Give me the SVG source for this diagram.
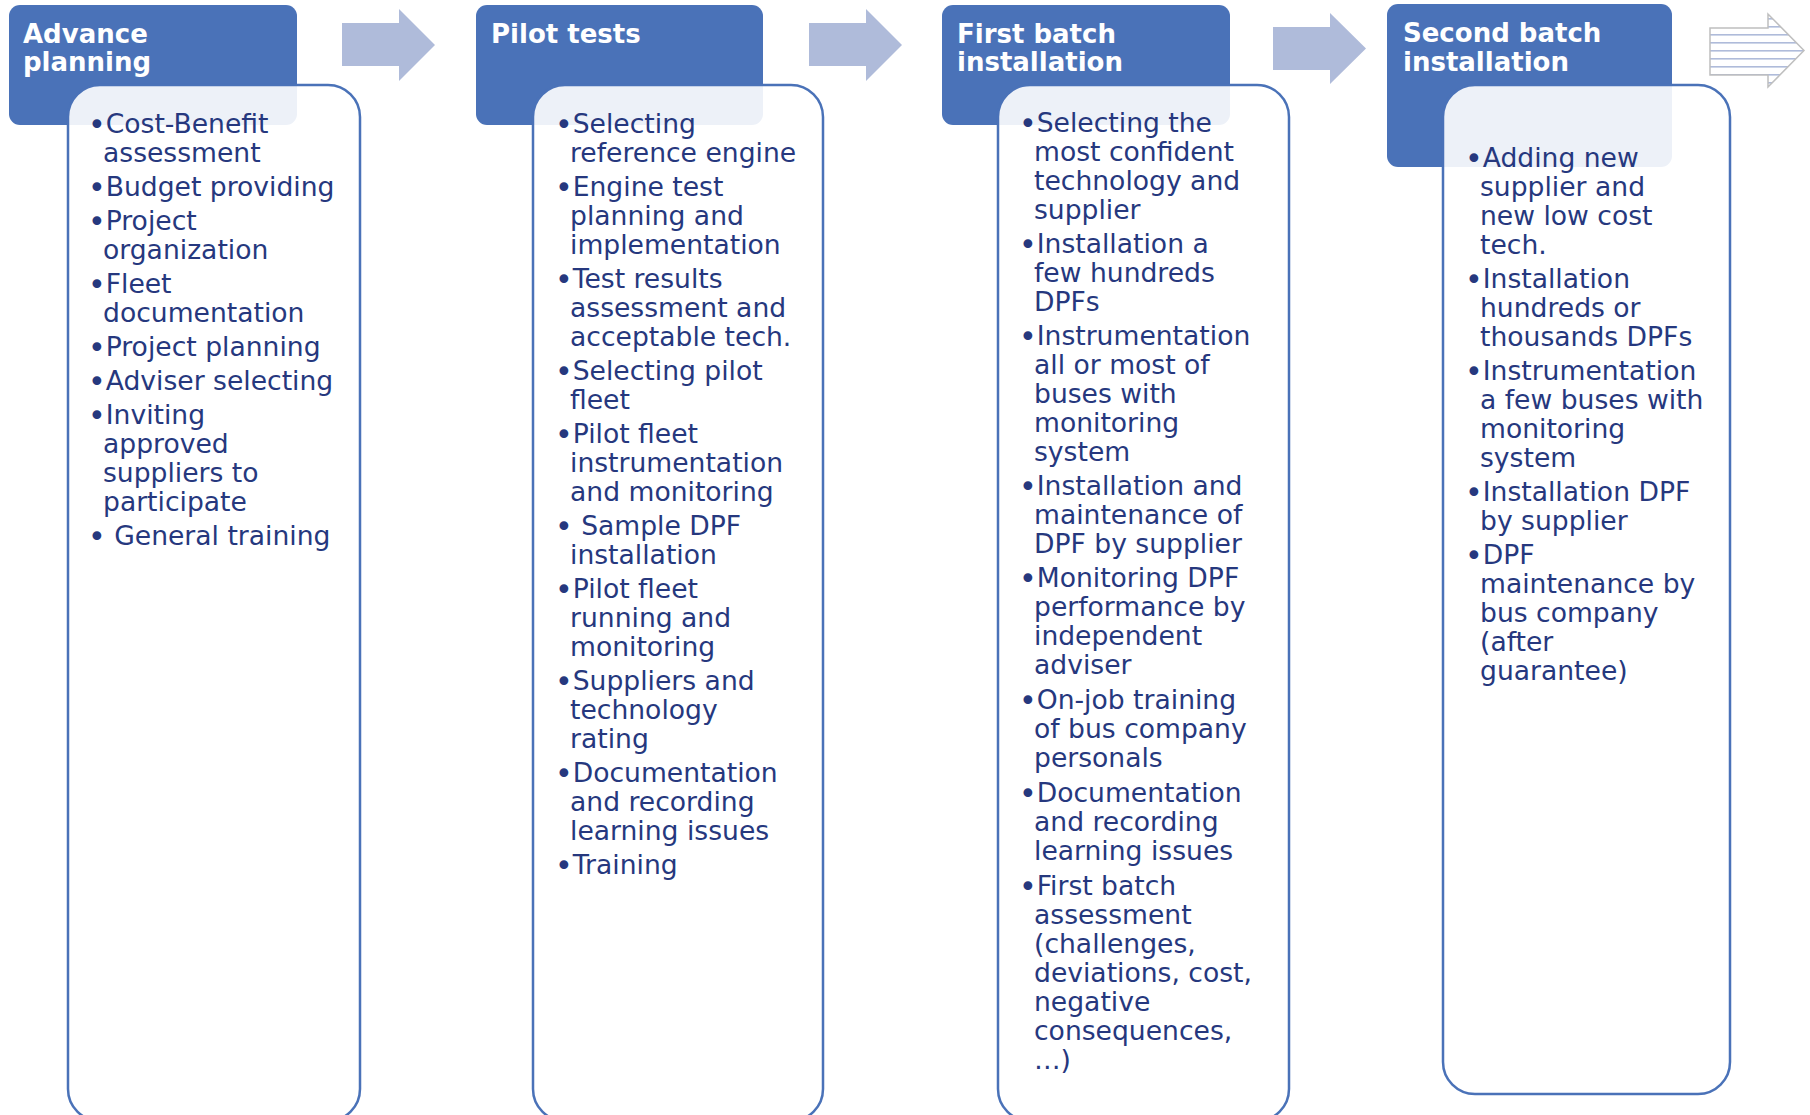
<svg xmlns="http://www.w3.org/2000/svg" width="1810" height="1115" viewBox="0 0 1810 1115">
<defs>
<style>
.hdr{fill:#4A72B8}
.box{fill:#FFFFFF;fill-opacity:0.9;stroke:#4A72B8;stroke-width:2.5}
.ht{font-family:"DejaVu Sans","Liberation Sans",sans-serif;font-weight:bold;font-size:26px;fill:#FFFFFF}
.bt{font-family:"DejaVu Sans","Liberation Sans",sans-serif;font-size:26.6px;fill:#26387E}
.b{font-size:30px;baseline-shift:-2px}
.arr{fill:#AFBBDA}
</style>
<pattern id="stripes" patternUnits="userSpaceOnUse" x="0" y="2" width="8" height="8">
<rect x="0" y="0" width="8" height="8" fill="#FFFFFF"/>
<rect x="0" y="0" width="8" height="1.6" fill="#AFBBDA"/>
</pattern>
</defs>
<rect width="1810" height="1115" fill="#FFFFFF"/>
<g id="connectors">
<polygon class="arr" points="342,23 399,23 399,9 435,45 399,81 399,66 342,66"/>
<polygon class="arr" points="809,23 866,23 866,9 902,45 866,81 866,66 809,66"/>
<polygon class="arr" points="1273,27 1330,27 1330,13 1366,48.5 1330,84 1330,70 1273,70"/>
<polygon points="1710,28 1768,28 1768,14 1804,50.5 1768,87 1768,75 1710,75" fill="url(#stripes)" stroke="#BFBFBF" stroke-width="1.5"/>
</g>
<g id="advance-planning">
<rect class="hdr" x="9" y="5" width="288" height="120" rx="11"/>
<text class="ht"><tspan x="23" y="43">Advance</tspan><tspan x="23" y="71">planning</tspan></text>
<rect class="box" x="68" y="85" width="292" height="1036" rx="32"/>
<text class="bt">
<tspan x="88" y="133"><tspan class="b">•</tspan>Cost-Benefit</tspan>
<tspan x="103" y="162">assessment</tspan>
<tspan x="88" y="196"><tspan class="b">•</tspan>Budget providing</tspan>
<tspan x="88" y="230"><tspan class="b">•</tspan>Project</tspan>
<tspan x="103" y="259">organization</tspan>
<tspan x="88" y="293"><tspan class="b">•</tspan>Fleet</tspan>
<tspan x="103" y="322">documentation</tspan>
<tspan x="88" y="356"><tspan class="b">•</tspan>Project planning</tspan>
<tspan x="88" y="390"><tspan class="b">•</tspan>Adviser selecting</tspan>
<tspan x="88" y="424"><tspan class="b">•</tspan>Inviting</tspan>
<tspan x="103" y="453">approved</tspan>
<tspan x="103" y="482">suppliers to</tspan>
<tspan x="103" y="511">participate</tspan>
<tspan x="88" y="545"><tspan class="b">•</tspan> General training</tspan>
</text>
</g>
<g id="pilot-tests">
<rect class="hdr" x="476" y="5" width="287" height="120" rx="11"/>
<text class="ht"><tspan x="491" y="43">Pilot tests</tspan></text>
<rect class="box" x="533" y="85" width="290" height="1036" rx="32"/>
<text class="bt">
<tspan x="555" y="133"><tspan class="b">•</tspan>Selecting</tspan>
<tspan x="570" y="162">reference engine</tspan>
<tspan x="555" y="196"><tspan class="b">•</tspan>Engine test</tspan>
<tspan x="570" y="225">planning and</tspan>
<tspan x="570" y="254">implementation</tspan>
<tspan x="555" y="288"><tspan class="b">•</tspan>Test results</tspan>
<tspan x="570" y="317">assessment and</tspan>
<tspan x="570" y="346">acceptable tech.</tspan>
<tspan x="555" y="380"><tspan class="b">•</tspan>Selecting pilot</tspan>
<tspan x="570" y="409">fleet</tspan>
<tspan x="555" y="443"><tspan class="b">•</tspan>Pilot fleet</tspan>
<tspan x="570" y="472">instrumentation</tspan>
<tspan x="570" y="501">and monitoring</tspan>
<tspan x="555" y="535"><tspan class="b">•</tspan> Sample DPF</tspan>
<tspan x="570" y="564">installation</tspan>
<tspan x="555" y="598"><tspan class="b">•</tspan>Pilot fleet</tspan>
<tspan x="570" y="627">running and</tspan>
<tspan x="570" y="656">monitoring</tspan>
<tspan x="555" y="690"><tspan class="b">•</tspan>Suppliers and</tspan>
<tspan x="570" y="719">technology</tspan>
<tspan x="570" y="748">rating</tspan>
<tspan x="555" y="782"><tspan class="b">•</tspan>Documentation</tspan>
<tspan x="570" y="811">and recording</tspan>
<tspan x="570" y="840">learning issues</tspan>
<tspan x="555" y="874"><tspan class="b">•</tspan>Training</tspan>
</text>
</g>
<g id="first-batch-installation">
<rect class="hdr" x="942" y="5" width="288" height="120" rx="11"/>
<text class="ht"><tspan x="957" y="43">First batch</tspan><tspan x="957" y="71">installation</tspan></text>
<rect class="box" x="998" y="85" width="291" height="1036" rx="32"/>
<text class="bt">
<tspan x="1019" y="132"><tspan class="b">•</tspan>Selecting the</tspan>
<tspan x="1034" y="161">most confident</tspan>
<tspan x="1034" y="190">technology and</tspan>
<tspan x="1034" y="219">supplier</tspan>
<tspan x="1019" y="253"><tspan class="b">•</tspan>Installation a</tspan>
<tspan x="1034" y="282">few hundreds</tspan>
<tspan x="1034" y="311">DPFs</tspan>
<tspan x="1019" y="345"><tspan class="b">•</tspan>Instrumentation</tspan>
<tspan x="1034" y="374">all or most of</tspan>
<tspan x="1034" y="403">buses with</tspan>
<tspan x="1034" y="432">monitoring</tspan>
<tspan x="1034" y="461">system</tspan>
<tspan x="1019" y="495"><tspan class="b">•</tspan>Installation and</tspan>
<tspan x="1034" y="524">maintenance of</tspan>
<tspan x="1034" y="553">DPF by supplier</tspan>
<tspan x="1019" y="587"><tspan class="b">•</tspan>Monitoring DPF</tspan>
<tspan x="1034" y="616">performance by</tspan>
<tspan x="1034" y="645">independent</tspan>
<tspan x="1034" y="674">adviser</tspan>
<tspan x="1019" y="709"><tspan class="b">•</tspan>On-job training</tspan>
<tspan x="1034" y="738">of bus company</tspan>
<tspan x="1034" y="767">personals</tspan>
<tspan x="1019" y="802"><tspan class="b">•</tspan>Documentation</tspan>
<tspan x="1034" y="831">and recording</tspan>
<tspan x="1034" y="860">learning issues</tspan>
<tspan x="1019" y="895"><tspan class="b">•</tspan>First batch</tspan>
<tspan x="1034" y="924">assessment</tspan>
<tspan x="1034" y="953">(challenges,</tspan>
<tspan x="1034" y="982">deviations, cost,</tspan>
<tspan x="1034" y="1011">negative</tspan>
<tspan x="1034" y="1040">consequences,</tspan>
<tspan x="1034" y="1069">…)</tspan>
</text>
</g>
<g id="second-batch-installation">
<rect class="hdr" x="1387" y="4" width="285" height="163" rx="11"/>
<text class="ht"><tspan x="1403" y="42">Second batch</tspan><tspan x="1403" y="71">installation</tspan></text>
<rect class="box" x="1443" y="85" width="287" height="1009" rx="32"/>
<text class="bt">
<tspan x="1465" y="167"><tspan class="b">•</tspan>Adding new</tspan>
<tspan x="1480" y="196">supplier and</tspan>
<tspan x="1480" y="225">new low cost</tspan>
<tspan x="1480" y="254">tech.</tspan>
<tspan x="1465" y="288"><tspan class="b">•</tspan>Installation</tspan>
<tspan x="1480" y="317">hundreds or</tspan>
<tspan x="1480" y="346">thousands DPFs</tspan>
<tspan x="1465" y="380"><tspan class="b">•</tspan>Instrumentation</tspan>
<tspan x="1480" y="409">a few buses with</tspan>
<tspan x="1480" y="438">monitoring</tspan>
<tspan x="1480" y="467">system</tspan>
<tspan x="1465" y="501"><tspan class="b">•</tspan>Installation DPF</tspan>
<tspan x="1480" y="530">by supplier</tspan>
<tspan x="1465" y="564"><tspan class="b">•</tspan>DPF</tspan>
<tspan x="1480" y="593">maintenance by</tspan>
<tspan x="1480" y="622">bus company</tspan>
<tspan x="1480" y="651">(after</tspan>
<tspan x="1480" y="680">guarantee)</tspan>
</text>
</g>
</svg>
